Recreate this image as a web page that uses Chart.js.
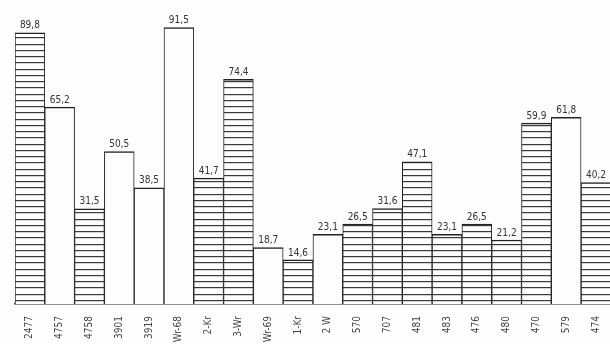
<!DOCTYPE html>
<html>
<head>
<meta charset="utf-8">
<script src="https://cdn.jsdelivr.net/npm/chart.js@4"></script>
<style>
  html, body { margin:0; padding:0; background:#fdfdfb; overflow:hidden; }
  #wrap { width:620px; height:344px; position:relative; }
</style>
</head>
<body>
<div id="wrap"><canvas id="c"></canvas></div>
<script>
// ---- data ----
const categories = ["2477","4757","4758","3901","3919","Wr-68","2-Kr","3-Wr","Wr-69","1-Kr",
                    "2 W","570","707","481","483","476","480","470","579","474"];
const values = [89.8, 65.2, 31.5, 50.5, 38.5, 91.5, 41.7, 74.4, 18.7, 14.6,
                23.1, 26.5, 31.6, 47.1, 23.1, 26.5, 21.2, 59.9, 61.8, 40.2];
// 1 = hatched (horizontal lines), 0 = plain
const hatched = [1, 0, 1, 0, 0, 0, 1, 1, 0, 1,
                 0, 1, 1, 1, 1, 1, 1, 1, 0, 1];
const yTicks = [0, 100];

// ---- hatch pattern ----
function makePattern() {
  const p = document.createElement('canvas');
  p.width = 8; p.height = 25;
  const g = p.getContext('2d');
  g.fillStyle = '#fdfdfb';
  g.fillRect(0, 0, 8, 25);
  g.fillStyle = '#3a3a3a';
  [0, 6, 12, 19].forEach(y => g.fillRect(0, y, 8, 1.2));
  return g.createPattern(p, 'repeat');
}
const ctx = document.getElementById('c').getContext('2d');
const pat = makePattern();
const fills = hatched.map(h => h ? pat : '#fdfdfb');

const valueLabels = {
  id: 'valueLabels',
  afterDatasetsDraw(chart) {
    const c = chart.ctx;
    const meta = chart.getDatasetMeta(0);
    c.save();
    c.font = '10px "Liberation Sans Narrow", "DejaVu Sans Condensed", sans-serif';
    c.fillStyle = '#333';
    c.textAlign = 'center';
    c.textBaseline = 'bottom';
    meta.data.forEach((bar, i) => {
      c.fillText(values[i].toFixed(1).replace('.', ','), bar.x, bar.y - 2);
    });
    c.restore();
  }
};

new Chart(ctx, {
  type: 'bar',
  data: {
    labels: categories,
    datasets: [{
      data: values,
      backgroundColor: fills,
      borderColor: '#222',
      borderWidth: { top: 1.5, left: 1, right: 1, bottom: 0 },
      borderSkipped: false,
      categoryPercentage: 1,
      barPercentage: 1
    }]
  },
  options: {
    responsive: true,
    maintainAspectRatio: false,
    animation: false,
    layout: { padding: { left: 15, top: 2, right: 0, bottom: 0 } },
    plugins: { legend: { display: false }, tooltip: { enabled: false } },
    scales: {
      x: {
        grid: { display: false, drawTicks: false },
        border: { display: true, color: '#222', width: 1.5 },
        ticks: {
          color: '#444',
          minRotation: 90, maxRotation: 90,
          padding: 12,
          autoSkip: false,
          font: { size: 10, family: '"Liberation Sans Narrow", "DejaVu Sans Condensed", sans-serif' }
        },
        afterFit(scale) { scale.height = 40; }
      },
      y: {
        display: false,
        min: yTicks[0],
        max: yTicks[1]
      }
    }
  },
  plugins: [valueLabels]
});
</script>
</body>
</html>
